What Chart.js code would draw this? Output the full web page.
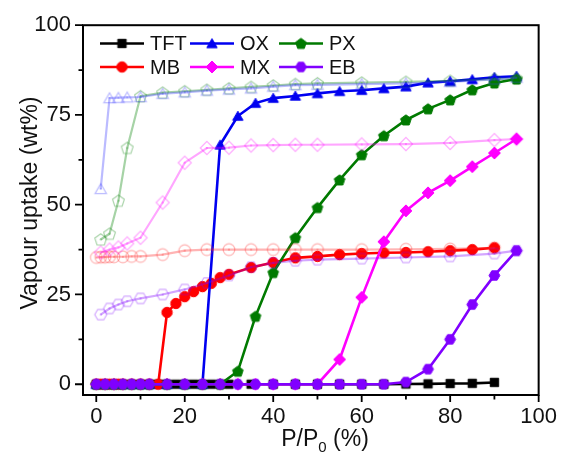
<!DOCTYPE html>
<html><head><meta charset="utf-8">
<style>html,body{margin:0;padding:0;background:#fff}canvas{display:block}</style>
<script src="https://cdn.jsdelivr.net/npm/chart.js@4.4.1/dist/chart.umd.min.js"></script>
</head><body>
<canvas id="c" width="566" height="458"></canvas>
<script>
// ---------- tick values ----------
const xTicks = [0, 20, 40, 60, 80, 100];
const xMinorTicks = [10, 30, 50, 70, 90];
const yTicks = [0, 25, 50, 75, 100];
const yMinorTicks = [12.5, 37.5, 62.5, 87.5];

// ---------- series names / legend order ----------
const seriesNames = ['TFT', 'OX', 'PX', 'MB', 'MX', 'EB'];

// ---------- adsorption data ----------
const tftAdsX = [0,2,4,6,8,10,12,14,16,18,20,22,24,26,28,30,35,40,45,50,55,60,65,70,75,80,85,90];
const tftAdsY = [0,0,0,0,0,0,0,0,0,0,0,0,0,0,0,0,0,0,0,0,0,0,0,0.05,0.1,0.2,0.25,0.5];

const oxAdsX = [0,2,4,6,8,10,12,16,20,24,28,32,36,40,45,50,55,60,65,70,75,80,85,90,95];
const oxAdsY = [0,0,0,0,0,0,0,0,0,0,66.7,74.7,78.3,79.7,80.3,81.0,81.6,81.9,82.4,82.9,84.0,84.4,84.9,85.5,85.8];

const pxAdsX = [0,2,4,6,8,10,12,16,20,24,28,32,36,40,45,50,55,60,65,70,75,80,85,90,95];
const pxAdsY = [0,0,0,0,0,0,0,0,0,0,0,3.6,18.9,31.1,40.8,49.2,56.9,63.9,69.2,73.6,76.7,79.2,82.0,83.9,85.0];

const mbAdsX = [0,1,2,3,4,5,6,8,10,12,14,16,18,20,22,24,26,28,30,35,40,45,50,55,60,65,70,75,80,85,90];
const mbAdsY = [0,0,0,0,0,0,0,0,0,0,0,20.0,22.5,24.4,25.8,27.2,28.1,29.7,30.6,32.5,33.9,35.2,35.6,36.1,36.4,36.6,36.7,36.9,37.2,37.5,38.0];

const mxAdsX = [0,2,4,6,8,10,12,16,20,24,28,32,36,40,45,50,55,60,65,70,75,80,85,90,95];
const mxAdsY = [0,0,0,0,0,0,0,0,0,0,0,0,0,0,0,0,6.9,24.2,39.7,48.3,53.3,56.7,60.6,64.4,68.3];

const ebAdsX = [0,2,4,6,8,10,12,16,20,24,28,32,36,40,45,50,55,60,65,70,75,80,85,90,95];
const ebAdsY = [0,0,0,0,0,0,0,0,0,0,0,0,0,0,0,0,0,0,0,0.6,4.2,12.5,22.2,30.3,37.2];

// ---------- desorption data ----------
const oxDesX = [1,3,5,7,10,15,20,25,30,35,40,45,50,60,70,80,90,95];
const oxDesY = [54.4,79.7,79.8,79.9,80.0,80.9,81.3,81.8,82.1,82.4,82.9,83.3,83.4,83.6,83.8,84.2,84.9,85.4];

const pxDesX = [1,3,5,7,10,15,20,25,30,35,40,45,50,60,70,80,90,95];
const pxDesY = [40.3,41.9,51.1,65.8,80.2,81.2,81.6,82.0,82.4,82.8,83.2,83.6,83.8,84.0,84.2,84.5,85.0,85.2];

const mbDesX = [0,1,2,3,4,6,8,10,15,20,25,30,35,40,45,50,60,70,80,90];
const mbDesY = [35.3,35.4,35.4,35.5,35.5,35.5,35.6,35.6,36.1,37.2,37.5,37.5,37.5,37.5,37.5,37.5,37.5,37.6,37.7,38.0];

const mxDesX = [1,3,5,7,10,15,20,25,30,35,40,45,50,60,70,80,90,95];
const mxDesY = [36.7,37.5,38.1,39.2,40.8,50.6,61.7,65.8,65.9,66.5,66.6,66.7,66.7,66.8,66.9,67.2,68.0,68.3];

const ebDesX = [1,3,5,7,10,15,20,25,30,35,40,45,50,60,70,80,90,95];
const ebDesY = [19.4,21.1,22.2,23.1,23.9,25.0,26.4,28.2,30.3,32.6,33.8,34.4,34.7,35.0,35.3,35.6,36.4,37.2];

// ---------- styles ----------
const colors = {TFT:'#000000', OX:'#0000f0', PX:'#007a00', MB:'#ff0000', MX:'#ff00ff', EB:'#8000ff'};
const fadeColors = {OX:'rgba(60,60,255,0.35)', PX:'rgba(0,128,0,0.35)', MB:'rgba(255,40,40,0.35)', MX:'rgba(255,0,255,0.35)', EB:'rgba(128,0,255,0.35)'};
const shapes = {TFT:'square', OX:'triangle', PX:'pentagon', MB:'circle', MX:'diamond', EB:'hexagon'};
const sizes = {TFT:4.2, OX:6.0, PX:5.6, MB:5.2, MX:6.0, EB:5.4};

function shapePath(ctx, shape, r) {
  ctx.beginPath();
  if (shape === 'circle') { ctx.arc(0, 0, r, 0, Math.PI * 2); return; }
  if (shape === 'square') { ctx.rect(-r, -r, 2 * r, 2 * r); return; }
  let n, rot, yoff = 0;
  if (shape === 'triangle') { n = 3; rot = -Math.PI / 2; yoff = r * 0.2; }
  else if (shape === 'diamond') { n = 4; rot = -Math.PI / 2; }
  else if (shape === 'pentagon') { n = 5; rot = -Math.PI / 2; yoff = r * 0.08; }
  else { n = 6; rot = 0; }
  for (let i = 0; i < n; i++) {
    const a = rot + i * 2 * Math.PI / n;
    const px = r * Math.cos(a), py = r * Math.sin(a) + yoff;
    if (i === 0) ctx.moveTo(px, py); else ctx.lineTo(px, py);
  }
  ctx.closePath();
}
function makeMarker(shape, color, hollow, r) {
  const s = Math.ceil(2 * r + 6);
  const cv = document.createElement('canvas');
  cv.width = s; cv.height = s;
  const ctx = cv.getContext('2d');
  ctx.translate(s / 2, s / 2);
  shapePath(ctx, shape, r);
  if (hollow) {
    ctx.lineWidth = 1.2; ctx.strokeStyle = color; ctx.stroke();
    ctx.beginPath(); ctx.arc(0, 0, 1.1, 0, Math.PI * 2); ctx.fillStyle = color; ctx.fill();
  } else {
    ctx.fillStyle = color; ctx.fill();
    ctx.lineWidth = 1; ctx.strokeStyle = color; ctx.stroke();
  }
  return cv;
}
function pts(xs, ys) { return xs.map((x, i) => ({x: x, y: ys[i]})); }

const adsData = {
  TFT: pts(tftAdsX, tftAdsY), OX: pts(oxAdsX, oxAdsY), PX: pts(pxAdsX, pxAdsY),
  MB: pts(mbAdsX, mbAdsY), MX: pts(mxAdsX, mxAdsY), EB: pts(ebAdsX, ebAdsY)
};
const desData = {
  OX: pts(oxDesX, oxDesY), PX: pts(pxDesX, pxDesY), MB: pts(mbDesX, mbDesY),
  MX: pts(mxDesX, mxDesY), EB: pts(ebDesX, ebDesY)
};
// drawing order (higher order = drawn earlier / underneath)
const adsOrder = {TFT: 16, MB: 15, OX: 14, MX: 13, PX: 12, EB: 11};
const desOrder = {MB: 5, EB: 4, MX: 3, PX: 2, OX: 1};

const markers = {};
const datasets = [];
seriesNames.forEach(n => {
  markers[n] = makeMarker(shapes[n], colors[n], false, sizes[n]);
  datasets.push({
    label: n, data: adsData[n], showLine: true, tension: 0,
    borderColor: colors[n], backgroundColor: colors[n], borderWidth: 2.6,
    pointStyle: markers[n], pointRadius: sizes[n], order: adsOrder[n]
  });
});
Object.keys(desData).forEach(n => {
  datasets.push({
    label: n + ' des', data: desData[n], showLine: true, tension: 0,
    borderColor: fadeColors[n], backgroundColor: fadeColors[n], borderWidth: 2.2,
    pointStyle: makeMarker(shapes[n], fadeColors[n], true, sizes[n] + 0.6), pointRadius: sizes[n],
    order: desOrder[n]
  });
});

const FONT = '"Liberation Sans", Arial, Helvetica, sans-serif';

const decorPlugin = {
  id: 'decor',
  afterDraw(chart) {
    const ctx = chart.ctx, a = chart.chartArea;
    const xs = chart.scales.x, ys = chart.scales.y;
    ctx.save();
    ctx.strokeStyle = '#000'; ctx.lineWidth = 2;
    ctx.strokeRect(a.left, a.top, a.right - a.left, a.bottom - a.top);
    // tick marks
    ctx.lineWidth = 1.8;
    ctx.beginPath();
    xTicks.forEach(v => { const p = xs.getPixelForValue(v); ctx.moveTo(p, a.bottom); ctx.lineTo(p, a.bottom + 7); });
    xMinorTicks.forEach(v => { const p = xs.getPixelForValue(v); ctx.moveTo(p, a.bottom); ctx.lineTo(p, a.bottom + 4.5); });
    yTicks.forEach(v => { const p = ys.getPixelForValue(v); ctx.moveTo(a.left, p); ctx.lineTo(a.left - 8, p); });
    yMinorTicks.forEach(v => { const p = ys.getPixelForValue(v); ctx.moveTo(a.left, p); ctx.lineTo(a.left - 4.5, p); });
    ctx.stroke();
    // axis titles
    ctx.fillStyle = '#111';
    ctx.font = '23px ' + FONT;
    ctx.textBaseline = 'alphabetic';
    ctx.save();
    ctx.translate(37, 203);
    ctx.rotate(-Math.PI / 2);
    ctx.textAlign = 'center';
    ctx.fillText('Vapour uptake (wt%)', 0, 0);
    ctx.restore();
    // x title with subscript
    const t1 = 'P/P', t2 = '0', t3 = ' (%)';
    ctx.font = '23px ' + FONT; const w1 = ctx.measureText(t1).width, w3 = ctx.measureText(t3).width;
    ctx.font = '15px ' + FONT; const w2 = ctx.measureText(t2).width;
    let x0 = 325 - (w1 + w2 + w3) / 2; const by = 446;
    ctx.textAlign = 'left';
    ctx.font = '23px ' + FONT; ctx.fillText(t1, x0, by);
    ctx.font = '15px ' + FONT; ctx.fillText(t2, x0 + w1, by + 6);
    ctx.font = '23px ' + FONT; ctx.fillText(t3, x0 + w1 + w2, by);
    // legend
    const cols = [100, 190, 279], rows = [43.5, 67];
    ctx.font = '20px ' + FONT; ctx.textBaseline = 'middle';
    seriesNames.forEach((n, i) => {
      const cx = cols[i % 3], cy = rows[Math.floor(i / 3)];
      ctx.strokeStyle = colors[n]; ctx.lineWidth = 2.6;
      ctx.beginPath(); ctx.moveTo(cx, cy); ctx.lineTo(cx + 44, cy); ctx.stroke();
      const m = markers[n];
      ctx.drawImage(m, cx + 22 - m.width / 2, cy - m.height / 2);
      ctx.fillStyle = '#111';
      ctx.fillText(n, cx + 50, cy + 1);
    });
    ctx.restore();
  }
};

new Chart(document.getElementById('c'), {
  type: 'scatter',
  data: { datasets: datasets },
  options: {
    responsive: false, animation: false, devicePixelRatio: 1,
    layout: { padding: { left: 0, right: 20, top: 24, bottom: 0 } },
    plugins: { legend: { display: false }, tooltip: { enabled: false } },
    scales: {
      x: {
        type: 'linear', min: -3, max: 100,
        grid: { display: false, drawTicks: false }, border: { display: false },
        afterBuildTicks: s => { s.ticks = xTicks.map(v => ({value: v})); },
        afterFit: s => { s.height = 63; },
        ticks: { autoSkip: false, maxRotation: 0, padding: 9, color: '#111', font: { size: 22, family: FONT } }
      },
      y: {
        type: 'linear', min: -3, max: 100,
        grid: { display: false, drawTicks: false }, border: { display: false },
        afterBuildTicks: s => { s.ticks = yTicks.map(v => ({value: v})); },
        afterFit: s => { s.width = 83; },
        ticks: { autoSkip: false, padding: 12, color: '#111', font: { size: 22, family: FONT } }
      }
    }
  },
  plugins: [decorPlugin]
});
</script>
</body></html>
